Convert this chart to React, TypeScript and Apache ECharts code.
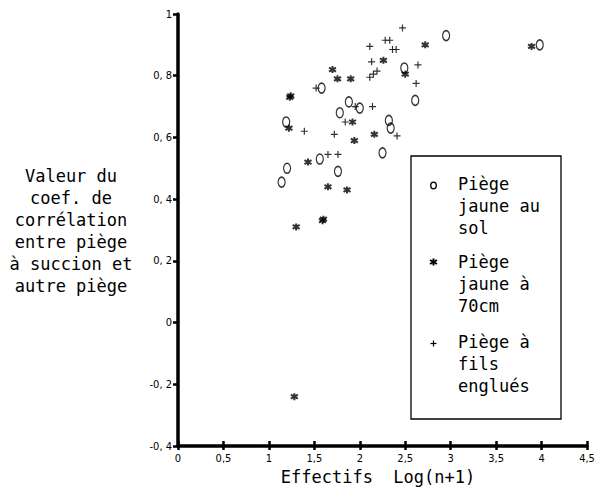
import React, { useEffect, useRef } from "react";
import * as echarts from "echarts";

// Piège jaune au sol (o)
const solPoints: number[][] = [
  [2.95, 0.93], [3.98, 0.9], [2.49, 0.825], [2.61, 0.72], [1.58, 0.76],
  [1.88, 0.715], [2.0, 0.695], [1.78, 0.68], [2.32, 0.655], [2.34, 0.63],
  [2.25, 0.55], [1.56, 0.53], [1.76, 0.49], [1.19, 0.65], [1.2, 0.5], [1.14, 0.455],
];

// Piège jaune à 70cm (*)
const jaunePoints: number[][] = [
  [3.89, 0.895], [2.72, 0.9], [2.26, 0.85], [2.5, 0.805], [1.7, 0.82],
  [1.755, 0.79], [1.9, 0.79], [1.23, 0.73], [1.24, 0.735], [1.22, 0.63], [1.92, 0.65],
  [1.94, 0.59], [2.16, 0.61], [1.43, 0.52], [1.65, 0.44], [1.86, 0.43],
  [1.3, 0.31], [1.59, 0.33], [1.6, 0.335], [1.28, -0.24],
];

// Piège à fils englués (+)
const filsPoints: number[][] = [
  [2.47, 0.955], [2.28, 0.915], [2.33, 0.915], [2.11, 0.895], [2.36, 0.885],
  [2.4, 0.885], [2.13, 0.845], [2.64, 0.835], [2.11, 0.795], [2.15, 0.805],
  [2.19, 0.815], [2.62, 0.775], [1.52, 0.76], [2.14, 0.7], [1.95, 0.7],
  [1.84, 0.65], [2.41, 0.605], [1.39, 0.62], [1.72, 0.61], [1.65, 0.545], [1.76, 0.545],
];

const yAxisTitleLines = [
  "Valeur du",
  "coef. de",
  "corrélation",
  "entre piège",
  "à succion et",
  "autre piège",
];
const xAxisTitle = "Effectifs  Log(n+1)";
const legendGroups = [
  "Piège\njaune au\nsol",
  "Piège\njaune à\n70cm",
  "Piège à\nfils\nenglués",
];

const MONO = "'DejaVu Sans Mono', 'Liberation Mono', monospace";
const NARROW = "'Liberation Sans Narrow', 'DejaVu Sans Condensed', 'DejaVu Sans', sans-serif";

const ellipsePath = "path://M3.5,0 A3.5,5 0 1,1 3.5,10 A3.5,5 0 1,1 3.5,0 Z";
const starPath = "path://M3.5,0 L3.5,7 M0,1.5 L7,5.5 M0,5.5 L7,1.5";
const plusPath = "path://M0,3.5 L7,3.5 M3.5,0 L3.5,7";

function fmtY(v: number): string {
  if (Math.abs(v) < 1e-9) return "0";
  if (Math.abs(v - 1) < 1e-9) return "1";
  return v.toFixed(1).replace(".", ", ");
}
function fmtX(v: number): string {
  if (Math.abs(v - Math.round(v)) < 1e-9) return String(Math.round(v));
  return v.toFixed(1).replace(".", ",");
}

export default function App() {
  const ref = useRef<HTMLDivElement>(null);
  useEffect(() => {
    if (!ref.current) return;
    const chart = echarts.init(ref.current, undefined, { renderer: "svg" });
    const axisLabelBase = { color: "#000", fontFamily: NARROW, fontSize: 11 };
    chart.setOption({
      animation: false,
      backgroundColor: "#fff",
      grid: {
        left: 178,
        top: 14,
        right: 9,
        bottom: 47,
        containLabel: false,
        outerBoundsMode: "none",
      },
      xAxis: [
        {
          type: "value",
          position: "bottom",
          min: 0,
          max: 4.5,
          interval: 0.5,
          splitLine: { show: false },
          axisLine: { show: true, onZero: false, lineStyle: { color: "#000", width: 3.5 } },
          axisTick: { show: true, length: 4, lineStyle: { color: "#000", width: 2.5 } },
          axisLabel: { ...axisLabelBase, margin: 7, formatter: fmtX },
        },
        {
          type: "value",
          position: "bottom",
          min: 0,
          max: 4.5,
          interval: 0.5,
          splitLine: { show: false },
          axisLine: { show: false, onZero: false },
          axisTick: { show: true, inside: true, length: 5, lineStyle: { color: "#000", width: 2.5 } },
          axisLabel: { show: false },
        },
      ],
      yAxis: {
        type: "value",
        min: -0.4,
        max: 1,
        interval: 0.2,
        splitLine: { show: false },
        axisLine: { show: true, onZero: false, lineStyle: { color: "#000", width: 3.5 } },
        axisTick: { show: true, length: 5, lineStyle: { color: "#000", width: 2.5 } },
        axisLabel: { ...axisLabelBase, margin: 6, formatter: fmtY },
      },
      series: [
        {
          type: "scatter",
          name: "Piège jaune au sol",
          data: solPoints,
          symbol: ellipsePath,
          symbolSize: [7, 10],
          itemStyle: { color: "rgba(0,0,0,0)", borderColor: "#000", borderWidth: 1.4 },
        },
        {
          type: "scatter",
          name: "Piège jaune à 70cm",
          data: jaunePoints,
          symbol: starPath,
          symbolSize: 7,
          itemStyle: { color: "rgba(0,0,0,0)", borderColor: "#000", borderWidth: 2 },
        },
        {
          type: "scatter",
          name: "Piège à fils englués",
          data: filsPoints,
          symbol: plusPath,
          symbolSize: 7,
          itemStyle: { color: "rgba(0,0,0,0)", borderColor: "#000", borderWidth: 1.2 },
        },
      ],
      graphic: [
        {
          type: "text",
          x: 71,
          y: 165,
          style: {
            text: yAxisTitleLines.join("\n"),
            font: `17px ${MONO}`,
            fill: "#000",
            align: "center",
            verticalAlign: "top",
            lineHeight: 22,
          } as any,
        },
        {
          type: "text",
          x: 378,
          y: 477,
          style: {
            text: xAxisTitle,
            font: `17px ${MONO}`,
            fill: "#000",
            align: "center",
            verticalAlign: "middle",
          } as any,
        },
        {
          type: "rect",
          shape: { x: 411, y: 156, width: 150, height: 263 },
          style: { fill: "#fff", stroke: "#000", lineWidth: 1.3 },
        },
        ...legendGroups.map((t, i) => ({
          type: "text",
          x: 458,
          y: [173, 251, 331][i],
          style: {
            text: t,
            font: `17px ${MONO}`,
            fill: "#000",
            align: "left",
            verticalAlign: "top",
            lineHeight: 22,
          } as any,
        })),
        {
          type: "ellipse",
          shape: { cx: 433.5, cy: 185.5, rx: 2.8, ry: 3.3 },
          style: { fill: "none", stroke: "#000", lineWidth: 1.3 },
        },
        { type: "line", shape: { x1: 433.5, y1: 258.5, x2: 433.5, y2: 265.5 }, style: { stroke: "#000", lineWidth: 2 } },
        { type: "line", shape: { x1: 430, y1: 260, x2: 437, y2: 264 }, style: { stroke: "#000", lineWidth: 2 } },
        { type: "line", shape: { x1: 430, y1: 264, x2: 437, y2: 260 }, style: { stroke: "#000", lineWidth: 2 } },
        { type: "line", shape: { x1: 430.5, y1: 343.5, x2: 436.5, y2: 343.5 }, style: { stroke: "#000", lineWidth: 1.2 } },
        { type: "line", shape: { x1: 433.5, y1: 340.5, x2: 433.5, y2: 346.5 }, style: { stroke: "#000", lineWidth: 1.2 } },
      ],
    });
    return () => chart.dispose();
  }, []);
  return (
    <div
      ref={ref}
      style={{ position: "fixed", left: 0, top: 0, width: 596, height: 493, background: "#fff" }}
    />
  );
}
